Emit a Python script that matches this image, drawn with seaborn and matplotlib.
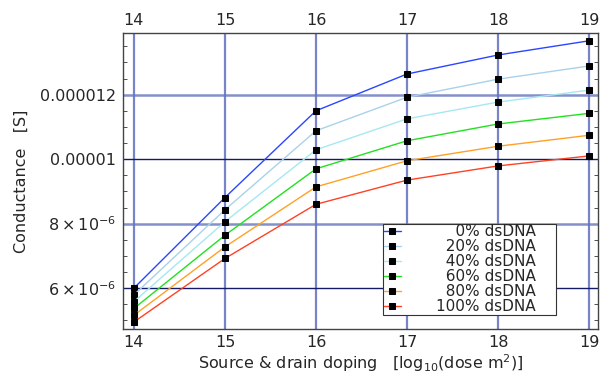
import seaborn as sns
import matplotlib.pyplot as plt
import matplotlib.ticker as mticker
import pandas as pd

# doping levels (log10 of dose)
doping = [14, 15, 16, 17, 18, 19]

# conductance [S] for each dsDNA fraction
g_0 = [6.00e-6, 8.81e-6, 11.50e-6, 12.64e-6, 13.23e-6, 13.67e-6]
g_20 = [5.79e-6, 8.43e-6, 10.88e-6, 11.92e-6, 12.48e-6, 12.89e-6]
g_40 = [5.58e-6, 8.06e-6, 10.29e-6, 11.25e-6, 11.77e-6, 12.14e-6]
g_60 = [5.37e-6, 7.64e-6, 9.70e-6, 10.57e-6, 11.09e-6, 11.42e-6]
g_80 = [5.16e-6, 7.28e-6, 9.14e-6, 9.95e-6, 10.40e-6, 10.74e-6]
g_100 = [4.95e-6, 6.92e-6, 8.60e-6, 9.35e-6, 9.79e-6, 10.10e-6]

labels = ["0% dsDNA", "20% dsDNA", "40% dsDNA", "60% dsDNA", "80% dsDNA", "100% dsDNA"]
colors = ["#2a46ff", "#a9d2ea", "#a6e8f2", "#22e022", "#ffa126", "#ff4124"]

ytick_vals = [6e-6, 8e-6, 1e-5, 1.2e-5]
ytick_labels = [r"$6\times10^{-6}$", r"$8\times10^{-6}$", "0.00001", "0.000012"]

sns.set_style("white")
plt.rcParams["font.family"] = ["DejaVu Sans"]
plt.rcParams["mathtext.fontset"] = "dejavusans"

fig = plt.figure(figsize=(6, 3.8), dpi=100)
ax = fig.add_axes([0.205, 0.134, 0.792, 0.779])

series = [g_0, g_20, g_40, g_60, g_80, g_100]
for vals, lab, col in zip(series, labels, colors):
    df = pd.DataFrame({"doping": doping, "G": vals})
    # pad short labels with figure spaces so text lines up on the right
    pad = "\u2007" * (len(labels[-1]) - len(lab))
    sns.lineplot(data=df, x="doping", y="G", ax=ax, color=col, lw=1,
                 marker="s", ms=5, mfc="black", mec="black",
                 label=pad + lab + "\u2007\u2007")

# grid lines
for x in doping:
    ax.axvline(x, color="#5566bb", lw=1.6, alpha=0.8, zorder=0.5)
for y in [8e-6, 1.2e-5]:
    ax.axhline(y, color="#6675bb", lw=1.8, alpha=0.8, zorder=0.5)
for y in [6e-6, 1e-5]:
    ax.axhline(y, color="#151a66", lw=1.0, zorder=0.5)

ax.set_xlim(13.88, 19.1)
ax.set_ylim(4.73e-6, 1.391e-5)
ax.set_xticks(doping)
ax.set_yticks(ytick_vals)
ax.yaxis.set_major_formatter(mticker.FixedFormatter(ytick_labels))
ax.yaxis.set_minor_locator(mticker.MultipleLocator(0.5e-6))
ax.tick_params(axis="x", top=True, labeltop=True, length=0, labelsize=11.5, pad=4)
ax.tick_params(axis="y", which="major", length=0, labelsize=11.5, pad=5)
ax.tick_params(axis="y", which="minor", direction="in", left=True, right=True,
               length=3, width=0.6, color="#333333")

for s in ax.spines.values():
    s.set_color("#444444")
    s.set_linewidth(1.0)

ax.set_xlabel(r"Source & drain doping   [log$_{10}$(dose m$^2$)]", fontsize=11.5, labelpad=2)
ax.set_ylabel("Conductance   [S]", fontsize=11.5, labelpad=8)

leg = ax.legend(loc="lower left", bbox_to_anchor=(0.547, 0.047), fontsize=11,
                frameon=True, fancybox=False, framealpha=1, edgecolor="#333333",
                labelspacing=0.0, handlelength=1.1, handletextpad=2.3,
                borderpad=0.05, borderaxespad=0)
leg.get_frame().set_linewidth(0.8)

plt.savefig("out.png", dpi=100)
